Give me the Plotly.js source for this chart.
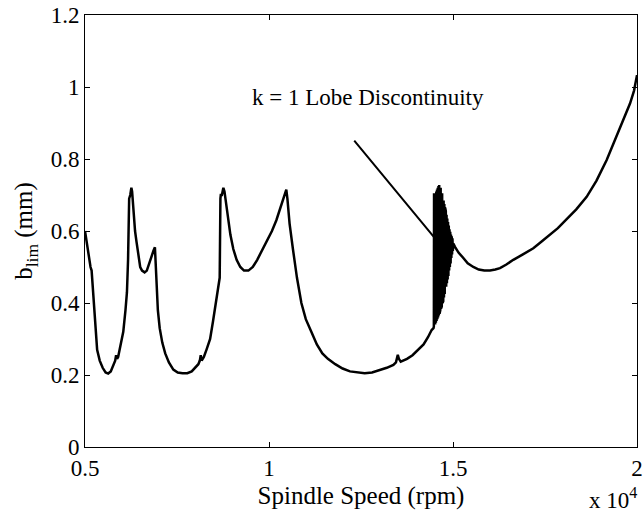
<!DOCTYPE html>
<html>
<head>
<meta charset="utf-8">
<script src="https://cdn.plot.ly/plotly-3.0.1.min.js"></script>
<style>html,body{margin:0;padding:0;background:#fff;}#chart{width:643px;height:516px;}</style>
</head>
<body>
<div id="chart"></div>
<script>
// Spindle speed (rpm) and limiting chip width b_lim (mm)
const speedRpm = [
  5000, 5040, 5090, 5150, 5180, 5200, 5240, 5280, 5330, 5400, 5480, 5560, 5630, 5700, 5770, 5820, 5845, 5870, 5900, 5960,
  6040, 6100, 6140, 6170, 6190, 6200, 6230, 6260, 6280, 6300, 6330, 6360, 6400, 6450, 6500, 6550, 6620, 6680, 6740, 6800,
  6860, 6900, 6920, 6950, 6980, 7030, 7100, 7180, 7280, 7400, 7520, 7650, 7780, 7900, 8000, 8080, 8120, 8145, 8170, 8230,
  8300, 8400, 8480, 8560, 8620, 8660, 8680, 8690, 8720, 8760, 8790, 8830, 8880, 8950, 9030, 9120, 9220, 9320, 9440, 9560,
  9680, 9800, 9940, 10080, 10200, 10300, 10400, 10470, 10500, 10560, 10650, 10760, 10880, 11000, 11150, 11300, 11450, 11600, 11800, 12000,
  12200, 12400, 12600, 12800, 13000, 13200, 13380, 13450, 13500, 13530, 13580, 13650, 13750, 13900, 14050, 14200, 14320, 14420, 14470, 14480,
  14485, 14495, 14505, 14515, 14525, 14535, 14545, 14555, 14565, 14575, 14585, 14595, 14605, 14615, 14625, 14635, 14645, 14655, 14665, 14675,
  14685, 14695, 14705, 14715, 14725, 14735, 14745, 14755, 14765, 14775, 14785, 14795, 14805, 14815, 14825, 14835, 14845, 14855, 14865, 14875,
  14885, 14895, 14905, 14915, 14925, 14935, 14945, 14955, 14965, 14975, 14985, 14995, 15010, 15054, 15150, 15281, 15400, 15553, 15700, 15850,
  16005, 16150, 16277, 16450, 16639, 16900, 17183, 17400, 17636, 17850, 18089, 18350, 18632, 18900, 19176, 19357, 19629, 19810, 19920, 20000
];
const bLimMm = [
  0.600, 0.570, 0.530, 0.500, 0.490, 0.460, 0.380, 0.320, 0.270, 0.240, 0.220, 0.207, 0.204, 0.210, 0.225, 0.240, 0.255, 0.245, 0.250, 0.280,
  0.320, 0.380, 0.430, 0.520, 0.640, 0.690, 0.700, 0.720, 0.710, 0.680, 0.650, 0.600, 0.570, 0.530, 0.500, 0.490, 0.485, 0.490, 0.510, 0.530,
  0.545, 0.555, 0.500, 0.420, 0.380, 0.330, 0.290, 0.260, 0.235, 0.215, 0.207, 0.205, 0.205, 0.210, 0.220, 0.230, 0.240, 0.255, 0.240, 0.250,
  0.270, 0.300, 0.350, 0.400, 0.440, 0.470, 0.690, 0.700, 0.700, 0.720, 0.710, 0.680, 0.640, 0.590, 0.550, 0.520, 0.500, 0.490, 0.490, 0.500,
  0.520, 0.545, 0.570, 0.600, 0.630, 0.660, 0.690, 0.715, 0.690, 0.620, 0.550, 0.470, 0.400, 0.355, 0.320, 0.285, 0.260, 0.245, 0.230, 0.218,
  0.210, 0.207, 0.205, 0.207, 0.213, 0.220, 0.228, 0.235, 0.256, 0.245, 0.237, 0.240, 0.245, 0.255, 0.270, 0.285, 0.305, 0.325, 0.330, 0.335,
  0.705, 0.350, 0.690, 0.340, 0.700, 0.345, 0.710, 0.350, 0.715, 0.355, 0.720, 0.360, 0.725, 0.365, 0.728, 0.370, 0.725, 0.380, 0.720, 0.385,
  0.715, 0.390, 0.705, 0.400, 0.695, 0.405, 0.685, 0.415, 0.675, 0.425, 0.665, 0.435, 0.655, 0.445, 0.645, 0.455, 0.635, 0.465, 0.625, 0.475,
  0.615, 0.490, 0.605, 0.500, 0.598, 0.510, 0.590, 0.525, 0.585, 0.535, 0.580, 0.545, 0.565, 0.556, 0.540, 0.525, 0.510, 0.500, 0.493, 0.490,
  0.490, 0.493, 0.497, 0.507, 0.520, 0.535, 0.552, 0.570, 0.590, 0.608, 0.633, 0.660, 0.695, 0.740, 0.797, 0.843, 0.908, 0.954, 0.990, 1.033
];
const xTickVals = [5000, 10000, 15000, 20000];
const xTickText = ['0.5', '1', '1.5', '2'];
const yTickVals = [0, 0.2, 0.4, 0.6, 0.8, 1, 1.2];
const yTickText = ['0', '0.2', '0.4', '0.6', '0.8', '1', '1.2'];
const annotationText = 'k = 1 Lobe Discontinuity';

const serif = 'Liberation Serif';
const axisCommon = {
  showline: true, linecolor: '#000', linewidth: 1, mirror: 'ticks',
  ticks: 'inside', ticklen: 5, tickcolor: '#000', tickwidth: 1,
  showgrid: false, zeroline: false,
  tickfont: {family: serif, size: 23, color: '#000'}
};

const data = [{
  x: speedRpm, y: bLimMm, type: 'scatter', mode: 'lines',
  line: {color: '#000', width: 2.5}, hoverinfo: 'skip'
}];

const layout = {
  width: 643, height: 516,
  margin: {l: 85, r: 6, t: 15, b: 69},
  paper_bgcolor: '#fff', plot_bgcolor: '#fff',
  showlegend: false,
  xaxis: Object.assign({}, axisCommon, {
    range: [5000, 20000], tickvals: xTickVals, ticktext: xTickText,
    title: {text: 'Spindle Speed (rpm)', font: {family: serif, size: 25, color: '#000'}, standoff: 6}
  }),
  yaxis: Object.assign({}, axisCommon, {
    range: [0, 1.2], tickvals: yTickVals, ticktext: yTickText,
    title: {text: 'b<sub>lim</sub> (mm)', font: {family: serif, size: 25, color: '#000'}, standoff: 10}
  }),
  annotations: [
    {x: 14484, y: 0.583, xref: 'x', yref: 'y', text: '', showarrow: true, arrowhead: 0,
     arrowwidth: 2, arrowcolor: '#000', ax: -81, ay: -98, standoff: 0, startstandoff: 0},
    {x: 12690, y: 0.972, xref: 'x', yref: 'y', text: annotationText, showarrow: false,
     font: {family: serif, size: 23, color: '#000'}},
    {x: 1, y: 0, xref: 'paper', yref: 'paper', xanchor: 'right', yanchor: 'bottom', yshift: -68, xshift: 2,
     text: 'x 10<sup>4</sup>', showarrow: false, font: {family: serif, size: 23, color: '#000'}}
  ]
};

Plotly.newPlot('chart', data, layout, {displayModeBar: false, staticPlot: true});
</script>
</body>
</html>
